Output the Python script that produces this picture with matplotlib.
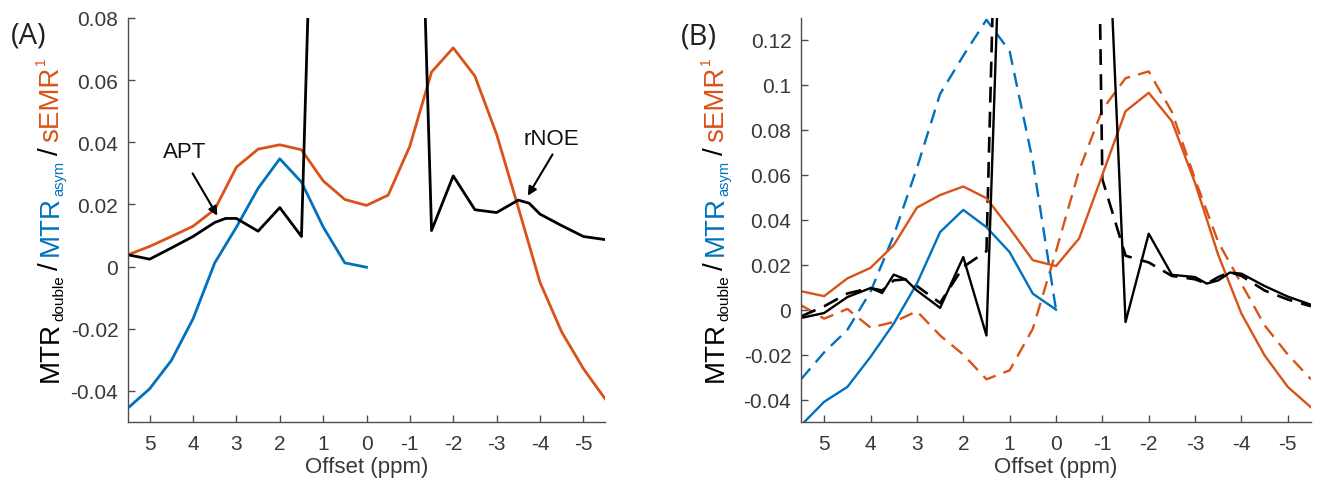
import matplotlib
matplotlib.use('Agg')
import matplotlib.pyplot as plt
import numpy as np

plt.rcParams['font.family'] = ['Liberation Sans', 'DejaVu Sans']
plt.rcParams['axes.unicode_minus'] = False

# offsets (ppm), 0.5 ppm grid
offset = [5.5, 5, 4.5, 4, 3.5, 3, 2.5, 2, 1.5, 1, 0.5, 0,
          -0.5, -1, -1.5, -2, -2.5, -3, -3.5, -4, -4.5, -5, -5.5]
offset_pos = [5.5, 5, 4.5, 4, 3.5, 3, 2.5, 2, 1.5, 1, 0.5, 0]

# ---- panel A ----
semr_a = [0.0038, 0.0065, 0.0097, 0.013, 0.0184, 0.032, 0.0378, 0.0392, 0.0376, 0.0276, 0.0216, 0.0197,
          0.023, 0.0388, 0.0626, 0.0704, 0.0613, 0.0426, 0.019, -0.005, -0.021, -0.0328, -0.0425]
asym_a = [-0.0455, -0.0393, -0.0302, -0.0168, 0.0012, 0.0127, 0.0252, 0.0347, 0.0272, 0.0128, 0.0012, -0.0002]
offset_dbl_a = [5.5, 5, 4.5, 4, 3.5, 3.25, 3, 2.5, 2, 1.5, 1, 0.5, 0,
                -0.5, -1, -1.5, -2, -2.5, -3, -3.5, -3.75, -4, -4.5, -5, -5.5]
double_a = [0.0038, 0.0024, 0.006, 0.0097, 0.0142, 0.0155, 0.0155, 0.0114, 0.019, 0.0097, 0.25, 0.6, 1.0,
            0.6, 0.25, 0.0116, 0.0292, 0.0183, 0.0174, 0.0214, 0.0204, 0.0169, 0.0132, 0.0097, 0.0087]

# ---- panel B ----
semr_b = [0.0082, 0.006, 0.0139, 0.0186, 0.0287, 0.0454, 0.051, 0.0548, 0.0496, 0.0362, 0.022, 0.0194,
          0.0317, 0.06, 0.0883, 0.0965, 0.0838, 0.0563, 0.0243, -0.0018, -0.0204, -0.0344, -0.0435]
semr_b2 = [0.002, -0.004, 0.0003, -0.008, -0.0055, -0.0007, -0.0115, -0.02, -0.031, -0.027, -0.0085, 0.026,
           0.062, 0.089, 0.103, 0.106, 0.088, 0.058, 0.03, 0.0115, -0.007, -0.02, -0.031]
asym_b = [-0.0515, -0.041, -0.0344, -0.021, -0.0062, 0.0116, 0.0345, 0.0444, 0.0367, 0.0256, 0.0071, 0.0]
asym_b2 = [-0.031, -0.019, -0.009, 0.008, 0.033, 0.063, 0.096, 0.113, 0.129, 0.115, 0.066, 0.0]
offset_dbl_b = [5.5, 5, 4.5, 4, 3.75, 3.5, 3.25, 3, 2.5, 2, 1.5, 1, 0.5, 0,
                -0.5, -1, -1.5, -2, -2.5, -3, -3.25, -3.5, -3.75, -4, -4.5, -5, -5.5]
double_b = [-0.0037, -0.0015, 0.0056, 0.0096, 0.0074, 0.0156, 0.0135, 0.0085, 0.0008, 0.0234, -0.0115, 0.3, 0.6, 1.0,
            0.6, 0.235, -0.0055, 0.0338, 0.0155, 0.0145, 0.0116, 0.013, 0.0165, 0.016, 0.0105, 0.0058, 0.0022]
double_b2 = [-0.003, 0.0015, 0.0072, 0.0096, 0.0085, 0.013, 0.0135, 0.0105, 0.003, 0.019, 0.026, 0.43, 0.8, 1.0,
             0.78, 0.058, 0.024, 0.021, 0.015, 0.0135, 0.0115, 0.0145, 0.0167, 0.015, 0.0085, 0.0045, 0.0015]

xticks = [5, 4, 3, 2, 1, 0, -1, -2, -3, -4, -5]
yticks_a = [-0.04, -0.02, 0, 0.02, 0.04, 0.06, 0.08]
yticks_b = [-0.04, -0.02, 0, 0.02, 0.04, 0.06, 0.08, 0.1, 0.12]

blue = '#0072BD'
orange = '#D95319'
axis_grey = '#4d4d4d'
text_grey = '#383838'

W, H = 1323, 489
fig = plt.figure(figsize=(W / 100, H / 100), dpi=100)
axA = fig.add_axes([128 / W, 66 / H, 477 / W, 404 / H])
axB = fig.add_axes([801 / W, 66 / H, 510 / W, 404.5 / H])


def style_axes(ax, yticks, ylim):
    ax.set_xlim(5.5, -5.5)
    ax.set_ylim(*ylim)
    ax.set_xticks(xticks)
    ax.set_xticklabels(['%g' % v for v in xticks])
    ax.set_yticks(yticks)
    ax.set_yticklabels(['%g' % v for v in yticks])
    for s in ['top', 'right']:
        ax.spines[s].set_visible(False)
    for s in ['left', 'bottom']:
        ax.spines[s].set_color(axis_grey)
        ax.spines[s].set_linewidth(1.0)
    ax.tick_params(direction='in', length=5, width=1, color=axis_grey,
                   labelcolor=text_grey, labelsize=15)
    ax.tick_params(axis='x', pad=9)
    ax.tick_params(axis='y', pad=7)
    ax.set_xlabel('Offset (ppm)', fontsize=16, color=text_grey, labelpad=2)


# panel A
axA.plot(offset, semr_a, color=orange, lw=2.0)
axA.plot(offset_pos, asym_a, color=blue, lw=2.0)
axA.plot(offset_dbl_a, double_a, color='k', lw=2.0)
style_axes(axA, yticks_a, (-0.05, 0.08))

axA.text(4.2, 0.0372, 'APT', fontsize=16, ha='center', va='center', color='#111111')
axA.annotate('', xy=(3.44, 0.0164), xytext=(4.01, 0.030),
             arrowprops=dict(arrowstyle='-|>', color='k', lw=1.5, mutation_scale=13,
                             shrinkA=0, shrinkB=0))
axA.text(-4.27, 0.0413, 'rNOE', fontsize=16, ha='center', va='center', color='#111111')
axA.annotate('', xy=(-3.72, 0.0228), xytext=(-4.29, 0.0361),
             arrowprops=dict(arrowstyle='-|>', color='k', lw=1.5, mutation_scale=13,
                             shrinkA=0, shrinkB=0))

# panel B
dash = (6, 3.5)
axB.plot(offset, semr_b2, color=orange, lw=1.7, dashes=dash)
axB.plot(offset_pos, asym_b2, color=blue, lw=1.7, dashes=dash)
axB.plot(offset_dbl_b, double_b2, color='k', lw=1.9, dashes=dash)
axB.plot(offset, semr_b, color=orange, lw=1.7)
axB.plot(offset_pos, asym_b, color=blue, lw=1.7)
axB.plot(offset_dbl_b, double_b, color='k', lw=1.7)
style_axes(axB, yticks_b, (-0.05, 0.13))

# panel letters
fig.text(29 / W, 1 - 36 / H, '(A)', fontsize=21, family=['Open Sans', 'DejaVu Sans'],
         ha='center', va='center', color='#222222')
fig.text(699 / W, 1 - 37 / H, '(B)', fontsize=21, family=['Open Sans', 'DejaVu Sans'],
         ha='center', va='center', color='#222222')

# multicolour rotated y label built piece by piece
renderer = fig.canvas.get_renderer()
label_pieces = [
    # text, colour, size, baseline shift (px, + = subscript), gap before (px)
    ('MTR', 'k', 20, 0, 0),
    ('double', 'k', 11, 5, 1),
    ('/', 'k', 20, 0, 5),
    ('MTR', blue, 20, 0, 6),
    ('asym', blue, 10.5, 5, 1),
    ('/', 'k', 20, 0, 5),
    ('sEMR', orange, 20, 0, 6),
    ('1', orange, 10, -13, 1),
]


def draw_ylabel(x_base, y_start):
    y = y_start
    for txt, col, size, shift, gap in label_pieces:
        y += gap
        t = fig.text((x_base + shift) / W, y / H, txt, color=col, fontsize=size,
                     rotation=90, rotation_mode='anchor', ha='left', va='baseline')
        bb = t.get_window_extent(renderer)
        y = bb.y1


draw_ylabel(58, H - 382)
draw_ylabel(723, H - 382)

fig.savefig('out.png', dpi=100)
